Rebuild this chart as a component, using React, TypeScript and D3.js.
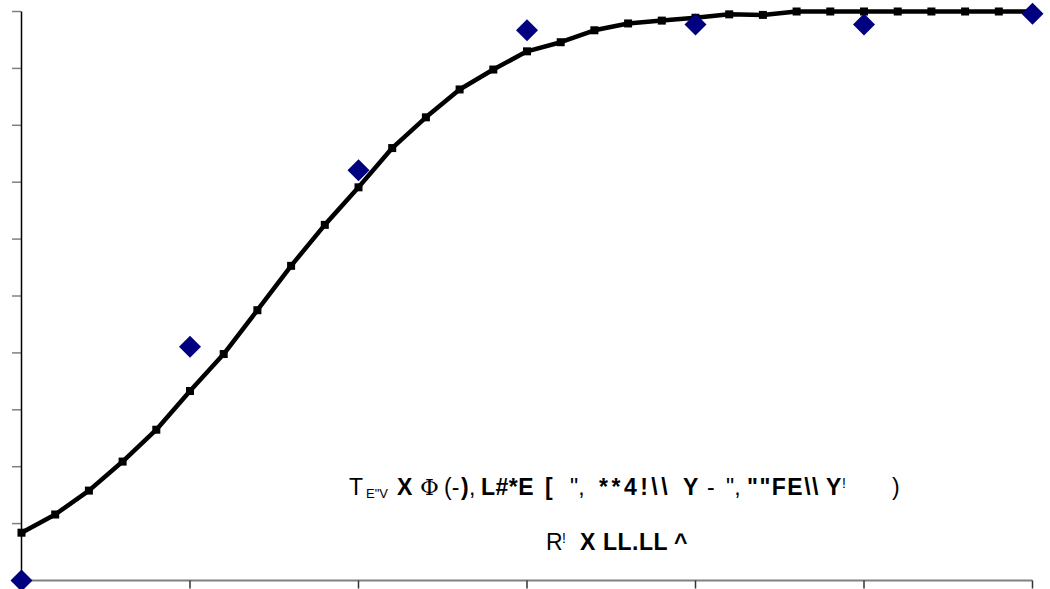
import React from 'react';
import * as d3 from 'd3';

// fitted curve, one value per x step (0..30)
const curveX = d3.range(0, 31);
const curveY = [
  0.084, 0.116, 0.158, 0.209, 0.265, 0.333, 0.398, 0.475, 0.553, 0.625,
  0.691, 0.76, 0.814, 0.863, 0.898, 0.93, 0.946, 0.967, 0.979, 0.984,
  0.989, 0.995, 0.994, 1.0, 1.0, 1.0, 1.0, 1.0, 1.0, 1.0, 1.0,
];

// observed points
const obsX = [0, 5, 10, 15, 20, 25, 30];
const obsY = [0, 0.411, 0.721, 0.967, 0.977, 0.977, 0.996];

const xTicks = [5, 10, 15, 20, 25, 30];
const yTicks = [0.1, 0.2, 0.3, 0.4, 0.5, 0.6, 0.7, 0.8, 0.9, 1.0];

// annotation pieces (text, style)
const eqLine = [
  { t: 'T', x: 349 },
  { t: 'E"V', x: 366, sub: true },
  { t: 'X', x: 397, b: true },
  { t: 'Φ', x: 420, serif: true },
  { t: '(-', x: 444 },
  { t: ')', x: 461, b: true },
  { t: ',', x: 469 },
  { t: 'L#*E', x: 481, b: true, ls: 0.5 },
  { t: '[', x: 545, b: true },
  { t: '",', x: 570 },
  { t: '**4!\\\\', x: 599, b: true, ls: 3.5 },
  { t: 'Y', x: 683, b: true },
  { t: '-', x: 707 },
  { t: '",', x: 726 },
  { t: '""FE\\\\', x: 747, b: true, ls: 1.5 },
  { t: 'Y', x: 826, b: true },
  { t: '!', x: 842, sup: true },
  { t: ')', x: 892 },
];
const r2Line = [
  { t: 'R', x: 546 },
  { t: '!', x: 562, sup: true },
  { t: 'X', x: 580, b: true },
  { t: 'LL.LL', x: 603, b: true, ls: 0.5 },
  { t: '^', x: 674, b: true },
];

const W = 1050;
const H = 589;

type Piece = { t: string; x: number; b?: boolean; sub?: boolean; sup?: boolean; serif?: boolean; ls?: number };

function Label({ pieces, y }: { pieces: Piece[]; y: number }) {
  return (
    <g>
      {pieces.map((p, i) => (
        <text key={i} x={p.x} y={p.sub ? y + 3 : p.sup ? y - 7 : y}
          fontSize={p.sub ? 13 : p.sup ? 14 : 23}
          fontWeight={p.b ? 'bold' : 'normal'}
          fontFamily={p.serif ? "'DejaVu Serif', serif" : undefined}
          letterSpacing={p.ls || 0}
          fill="#000">{p.t}</text>
      ))}
    </g>
  );
}

export default function App() {
  const x = d3.scaleLinear().domain([0, 30]).range([21.5, 1032.5]);
  const y = d3.scaleLinear().domain([0, 1]).range([580.5, 11.5]);

  const line = d3.line<number>()
    .x((_, i) => x(curveX[i]))
    .y(d => y(d));

  const diamond = (cx: number, cy: number, r: number) =>
    `M${cx},${cy - r}L${cx + r},${cy}L${cx},${cy + r}L${cx - r},${cy}Z`;

  return (
    <svg width={W} height={H} style={{ position: 'absolute', left: 0, top: 0, background: '#fff' }}
      fontFamily="'Liberation Sans', Arial, sans-serif">
      {/* y axis */}
      {yTicks.map(t => (
        <line key={t} x1={12} x2={21} y1={y(t)} y2={y(t)} stroke="#808080" strokeWidth={1.5} />
      ))}
      <line x1={21.5} x2={21.5} y1={y(1)} y2={y(0)} stroke="#000" strokeWidth={1.5} />
      {/* x axis */}
      <line x1={x(0)} x2={x(30)} y1={y(0)} y2={y(0)} stroke="#808080" strokeWidth={2} />
      {xTicks.map(t => (
        <line key={t} x1={x(t)} x2={x(t)} y1={y(0)} y2={y(0) + 8} stroke="#333" strokeWidth={1.5} />
      ))}

      {/* fitted curve */}
      <path d={line(curveY) || ''} fill="none" stroke="#000" strokeWidth={4.5} strokeLinejoin="round" />
      {curveY.map((v, i) => (
        <rect key={i} x={x(curveX[i]) - 4} y={y(v) - 4} width={8} height={8} fill="#000" />
      ))}

      {/* observations */}
      {obsY.map((v, i) => (
        <path key={i} d={diamond(x(obsX[i]), y(v), 11)} fill="#000080" />
      ))}

      {/* annotation */}
      <Label pieces={eqLine} y={495} />
      <Label pieces={r2Line} y={550} />
    </svg>
  );
}
